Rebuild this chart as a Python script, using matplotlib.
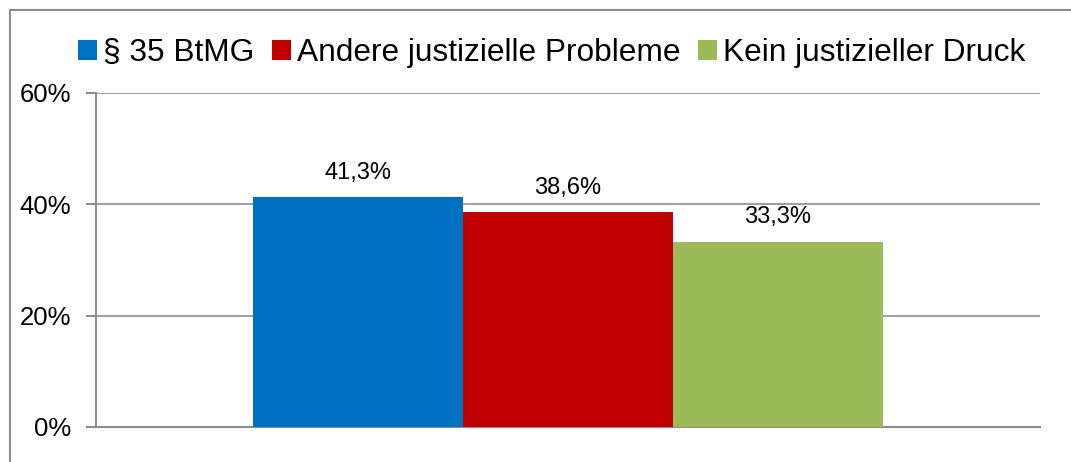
import matplotlib.pyplot as plt
from matplotlib.patches import Rectangle
from matplotlib.ticker import FuncFormatter

plt.rcParams['font.family'] = ['Liberation Sans', 'DejaVu Sans']

series = ['§ 35 BtMG', 'Andere justizielle Probleme', 'Kein justizieller Druck']
values = [41.3, 38.6, 33.3]
colors = ['#0070C0', '#C00000', '#9BBB59']
yticks = [0, 20, 40, 60]

fig = plt.figure(figsize=(10.71, 4.62), dpi=100)
ax = fig.add_axes([96 / 1071, 1 - 427 / 462, (1040 - 96) / 1071, (427 - 93) / 462])

xs = [-1, 0, 1]
for x, v, c, s in zip(xs, values, colors, series):
    ax.bar(x, v, width=1.0, color=c, label=s, zorder=3)
    ax.text(x, v + 2.4, f'{v:.1f}%'.replace('.', ','), ha='center', va='bottom',
            fontsize=17)

ax.set_xlim(-2.25, 2.25)
ax.set_ylim(0, 60)
ax.set_yticks(yticks)
ax.yaxis.set_major_formatter(FuncFormatter(lambda v, p: f'{v:.0f}%'))
ax.tick_params(axis='y', labelsize=18.5, length=7, color='#8c8c8c', width=1.5, pad=11)
ax.set_xticks([])
ax.grid(axis='y', color='#8c8c8c', linewidth=1.2, zorder=0)
for side in ['top', 'right']:
    ax.spines[side].set_visible(False)
for side in ['left', 'bottom']:
    ax.spines[side].set_color('#8c8c8c')
    ax.spines[side].set_linewidth(1.5)

fig.legend(loc='center', bbox_to_anchor=(0.515, 1 - 53 / 462), ncol=3, frameon=False,
           fontsize=22.8, handlelength=0.6, handleheight=0.6, handletextpad=0.2,
           columnspacing=0.55)

border = Rectangle((10 / 1071, -0.1), 1.2, 1 - 10 / 462 + 0.1, transform=fig.transFigure,
                   fill=False, edgecolor='#8c8c8c', linewidth=1.5, clip_on=False)
fig.patches.append(border)

fig.savefig('out.png', dpi=100)
